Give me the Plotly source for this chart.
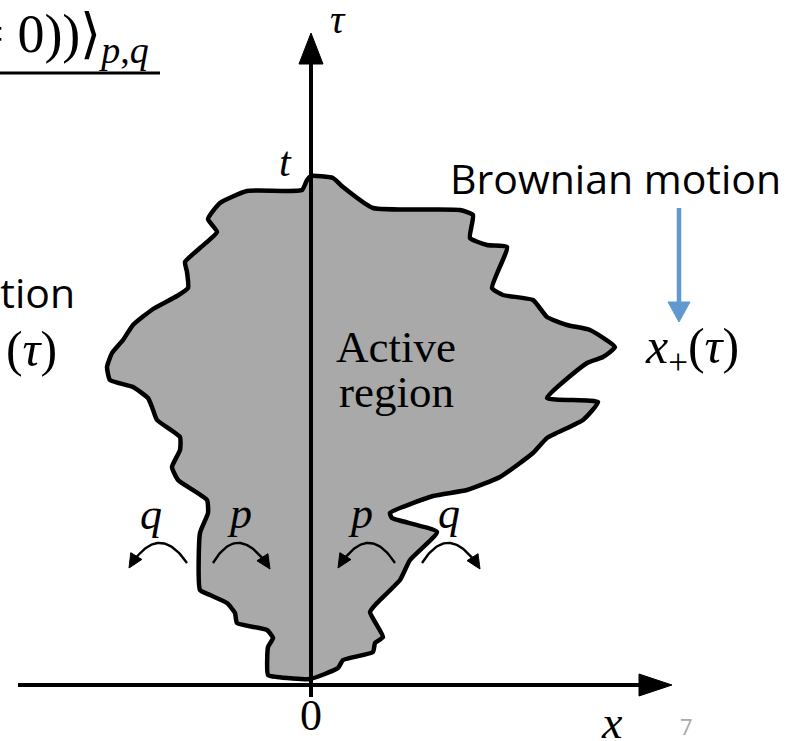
import numpy as np
import plotly.graph_objects as go

# Diagram coordinates: x relative to origin, tau upward
left_x = [0, -4, -9, -64, -91, -103, -94, -111, -126, -124, -123, -134, -158, -178, -188, -199, -204, -201,
          -178, -163, -159, -154, -131, -131, -139, -133, -104, -103, -111, -111, -101, -84, -76, -74, -44,
          -38, -43, -43, -34, -1]
left_t = [509, 505, 495, 494, 482, 466, 453, 437, 423, 413, 397, 389, 376, 360, 345, 332, 318, 305,
          298, 287, 278, 265, 248, 235, 218, 205, 185, 172, 152, 95, 90, 82, 72, 62, 55,
          47, 38, 10, 8, 6]
right_x = [-1, 27, 32, 62, 64, 72, 59, 66, 89, 99, 126, 81, 79, 122, 156, 189, 222, 236, 272, 287, 236,
           276, 292, 304, 279, 256, 236, 222, 192, 181, 196, 176, 159, 162, 149, 62, 32, 22, 0]
right_t = [6, 17, 25, 33, 42, 48, 73, 82, 105, 125, 153, 167, 172, 189, 195, 208, 232, 247, 265, 283, 287,
           322, 328, 338, 355, 360, 368, 385, 390, 397, 438, 440, 447, 470, 475, 477, 498, 507, 509]

# hop arrows: start, peak, tip
arc_start = [(-124, 122), (-98, 122), (84, 122), (111, 122)]
arc_peak = [(-153, 142), (-71, 142), (56, 142), (139, 142)]
arc_tip = [(-182, 117), (-41, 116), (27, 117), (169, 116)]
arc_labels = ["q", "p", "p", "q"]
arc_label_pos = [(-160, 171), (-72, 172), (49, 172), (138, 172)]

x_axis = (-293, 361)
tau_axis = (-12, 652)

fig = go.Figure()

bx = left_x + right_x[1:]
bt = left_t + right_t[1:]
fig.add_trace(go.Scatter(x=bx, y=bt, mode="lines", fill="toself", fillcolor="#a9a9a9",
                         line=dict(color="black", width=4.5, shape="spline", smoothing=0.45),
                         hoverinfo="skip"))


def tri(tip, direction, length, half):
    d = np.array(direction, float)
    d /= np.linalg.norm(d)
    n = np.array([-d[1], d[0]])
    tp = np.array(tip, float)
    base = tp - d * length
    p1 = base + n * half
    p2 = base - n * half
    return [tp[0], p1[0], p2[0], tp[0]], [tp[1], p1[1], p2[1], tp[1]]


def add_tri(tip, direction, length, half, color):
    tx, ty = tri(tip, direction, length, half)
    fig.add_trace(go.Scatter(x=tx, y=ty, mode="lines", fill="toself", fillcolor=color,
                             line=dict(color=color, width=1), hoverinfo="skip"))


# axes
fig.add_trace(go.Scatter(x=[x_axis[0], x_axis[1] - 25], y=[0, 0], mode="lines",
                         line=dict(color="black", width=4), hoverinfo="skip"))
add_tri((x_axis[1], 0), (1, 0), 33, 11, "black")
fig.add_trace(go.Scatter(x=[0, 0], y=[tau_axis[0], tau_axis[1] - 25], mode="lines",
                         line=dict(color="black", width=4), hoverinfo="skip"))
add_tri((0, tau_axis[1]), (0, 1), 31, 12, "black")

# hop arcs
for s, pk, tp in zip(arc_start, arc_peak, arc_tip):
    s = np.array(s, float); pk = np.array(pk, float); tp = np.array(tp, float)
    c = 2 * pk - (s + tp) / 2
    tt = np.linspace(0, 0.9, 40)
    xs = (1 - tt) ** 2 * s[0] + 2 * (1 - tt) * tt * c[0] + tt ** 2 * tp[0]
    ys = (1 - tt) ** 2 * s[1] + 2 * (1 - tt) * tt * c[1] + tt ** 2 * tp[1]
    fig.add_trace(go.Scatter(x=xs, y=ys, mode="lines", line=dict(color="black", width=2.4),
                             hoverinfo="skip"))
    add_tri(tp, tp - c, 14, 6.5, "black")

# blue arrow
blue = "#6198d0"
fig.add_trace(go.Scatter(x=[368, 368], y=[477, 380], mode="lines", line=dict(color=blue, width=4.5),
                         hoverinfo="skip"))
add_tri((368, 363), (0, -1), 20, 11, blue)

# underline of title
fig.add_trace(go.Scatter(x=[-320, -151], y=[612, 612], mode="lines", line=dict(color="black", width=3),
                         hoverinfo="skip"))

serif = "Liberation Serif"
sans = "Open Sans"
ann = []


def txt(x, y, s, size, family=serif, xanchor="center", yanchor="middle", color="black"):
    ann.append(dict(x=x, y=y, text=s, showarrow=False, xanchor=xanchor, yanchor=yanchor,
                    font=dict(family=family, size=size, color=color)))


for lab, (lx, ly) in zip(arc_labels, arc_label_pos):
    txt(lx, ly, "<i>%s</i>" % lab, 44)

txt(27, 666, "<i>τ</i>", 40)
txt(-26, 523, "<i>t</i>", 42)
txt(0, -30, "0", 44)
txt(301, -37, "<i>x</i>", 46)
txt(375, -41, "7", 22, family=sans, color="#aaaaaa")
txt(85, 338, "Active", 45)
txt(85, 293, "region", 45)
txt(381, 335, "<i>x</i><sub>+</sub>(<i>τ</i>)", 50)
txt(-252, 332, "<i>x</i><sub>−</sub>\u2002(<i>τ</i>)", 50, xanchor="right")
txt(304, 507, "Brownian motion", 41, family=sans)
txt(-234, 393, "Brownian motion", 41, family=sans, xanchor="right")
txt(-160, 648, "⟨<i>P</i>(<i>x</i>(<i>t</i>) = 0))⟩<sub><span style=\"font-size:38px\"><i>p</i>,<i>q</i></span></sub>",
    54, xanchor="right")

fig.update_layout(
    width=788, height=741, autosize=False,
    margin=dict(l=0, r=0, t=0, b=0),
    paper_bgcolor="white", plot_bgcolor="white",
    showlegend=False,
    xaxis=dict(range=[-311, 477], visible=False, fixedrange=True),
    yaxis=dict(range=[-56, 685], visible=False, fixedrange=True),
    annotations=ann,
)

fig.write_html("out.html")
